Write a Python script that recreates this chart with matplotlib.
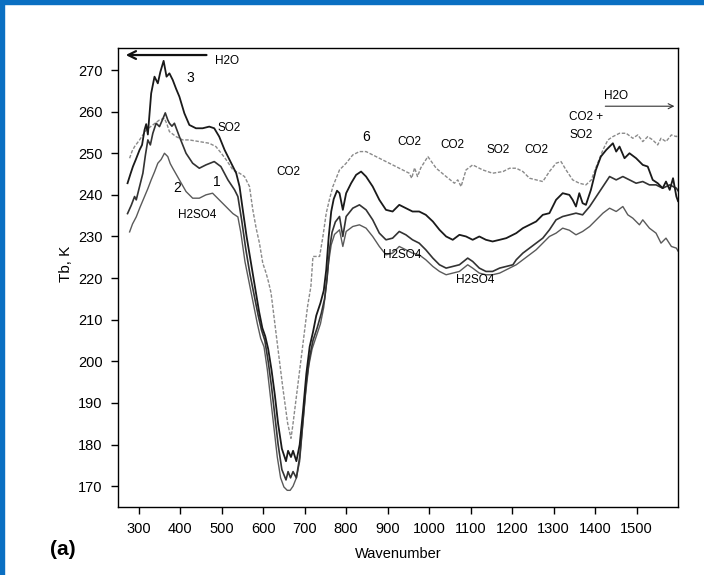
import matplotlib.pyplot as plt
from matplotlib.patches import Rectangle

plt.rcParams['font.family'] = ['Liberation Sans', 'DejaVu Sans']

# curve 3 (warmest at the left)
w3 = [273, 280, 286, 293, 302, 308, 314, 318, 322, 330, 338, 346, 352, 360, 367, 374, 382, 390, 398,
      410, 422, 438, 454, 470, 482, 494, 507, 523, 535, 543,
      550, 560, 570, 580, 590, 598, 605, 612, 620, 628, 636, 645, 655, 660, 667, 672, 680, 688, 696,
      704, 712, 720, 728, 738, 746, 752, 758, 764, 770, 778,
      784, 792, 800, 812, 824, 836, 848, 864, 880, 896, 912, 928, 944, 960, 976, 992, 1009, 1025,
      1041, 1057, 1073, 1089, 1105, 1121, 1137, 1153, 1170, 1186,
      1194, 1210, 1226, 1242, 1258, 1274, 1290, 1306, 1322, 1338, 1346, 1354, 1362, 1370, 1378,
      1390, 1402, 1414, 1427, 1435, 1443, 1451, 1459, 1471, 1483, 1499, 1515, 1527, 1539, 1551,
      1563, 1571, 1580, 1588, 1596, 1600]
tb3 = [242.8, 245.0, 246.8, 248.5, 250.8, 252.0, 255.6, 257.0, 254.5, 264.4, 268.4, 266.8, 269.5, 272.2,
       268.4, 269.2, 267.6, 265.5, 263.6,
       259.6, 256.8, 256.0, 256.0, 256.4, 256.0, 254.0, 250.8, 247.6, 245.2, 242.0,
       237.0, 230.0, 224.0, 218.0, 212.0, 208.0, 206.0, 203.0, 198.0, 192.0, 185.0, 179.0, 176.0, 178.5,
       177.0, 178.5, 176.0, 180.0, 188.0,
       197.0, 203.5, 207.0, 211.0, 214.0, 217.0, 222.0, 230.0, 236.0, 239.0, 241.0,
       240.4, 236.4, 240.4, 242.8, 244.8, 245.6, 244.4, 242.0, 238.8, 236.4, 236.0, 237.6, 236.8, 236.0,
       236.0, 235.2, 233.6, 231.6,
       230.0, 229.2, 230.4, 230.0, 229.2, 230.0, 229.2, 228.8, 229.2, 229.6,
       230.0, 230.8, 232.0, 232.8, 233.6, 235.2, 235.6, 238.8, 240.4, 240.0, 238.8, 237.2, 240.4, 238.0,
       237.6,
       241.2, 246.0, 249.2, 250.8, 251.6, 252.4, 250.4, 251.6, 248.8, 250.0, 248.8, 247.2, 246.8, 243.6,
       242.8, 241.6, 243.2, 241.2, 244.0, 239.6, 238.5]

# curve 1
w1 = [273, 282, 290, 294, 302, 310, 316, 322, 328, 334, 342, 350, 357, 364, 370, 374, 380, 386, 398,
      406, 414, 430, 446, 462, 482, 498, 515, 531, 539,
      548, 558, 568, 578, 588, 596, 604, 612, 620, 628, 636, 645, 655, 660, 666, 672, 680, 688, 696,
      704, 712, 720, 730, 740, 748, 754, 760, 766, 774,
      784, 792, 800, 816, 832, 848, 864, 880, 896, 912, 928, 944, 960, 976, 992, 1009, 1025, 1041,
      1057, 1073, 1093, 1105, 1121, 1137, 1153, 1170, 1186, 1202,
      1210, 1226, 1242, 1258, 1274, 1290, 1306, 1322, 1338, 1354, 1370, 1387, 1403, 1419, 1435,
      1451, 1467, 1483, 1499, 1515, 1531, 1547, 1563, 1580, 1596, 1600]
tb1 = [235.5, 237.5, 239.6, 238.8, 242.0, 245.2, 249.5, 253.2, 252.0, 254.8, 257.2, 256.4, 258.0, 259.7,
       258.0, 257.2, 256.5, 257.2, 254.0,
       252.0, 250.0, 247.6, 246.4, 247.2, 248.0, 246.8, 243.6, 241.2, 239.6,
       234.0, 227.0, 221.0, 216.0, 211.0, 207.5, 205.0, 200.0, 194.0, 187.0, 180.0, 174.0, 171.5, 173.5,
       172.0, 173.5, 172.0, 177.0, 186.0,
       195.0, 201.0, 205.0, 208.0, 211.5, 215.0, 220.0, 227.0, 231.0, 233.5,
       234.8, 230.0, 234.8, 236.8, 237.6, 236.4, 234.0, 230.8, 229.2, 229.6, 231.2, 230.4, 229.2, 228.4,
       226.8, 224.8, 223.2, 222.4,
       222.8, 223.2, 224.8, 224.0, 222.4, 221.6, 221.6, 222.4, 222.8, 223.2,
       224.4, 226.0, 227.2, 228.4, 229.6, 231.6, 234.0, 234.8, 235.2, 235.6, 235.2, 237.2, 239.6, 242.0,
       244.4,
       243.6, 244.4, 243.6, 242.8, 243.2, 242.4, 242.4, 241.6, 242.4, 241.6, 241.0]

# curve 2 (coolest)
w2 = [278, 285, 294, 303, 314, 322, 330, 338, 346, 354, 362, 370, 376, 382, 390, 398, 414, 430, 446,
      462, 478, 494, 510, 527, 539,
      546, 556, 566, 576, 586, 594, 602, 610, 618, 626, 634, 642, 650, 658, 665, 672, 680, 688, 694,
      702, 710, 718, 728, 738, 746, 752, 758, 764, 772,
      784, 792, 800, 816, 832, 848, 864, 880, 896, 912, 928, 944, 960, 976, 992, 1009, 1025, 1041,
      1057, 1073, 1093, 1105, 1121, 1137, 1153, 1170, 1186, 1202,
      1210, 1226, 1242, 1258, 1274, 1290, 1306, 1322, 1338, 1354, 1370, 1387, 1403, 1419, 1435,
      1451, 1467, 1479, 1491, 1507, 1515, 1531, 1547, 1559, 1571, 1584, 1596, 1600]
tb2 = [231.1, 233.0, 234.7, 237.0, 239.6, 241.5, 243.6, 245.5, 247.6, 248.5, 250.0, 249.2, 247.5, 246.4,
       245.0, 243.6, 240.8, 239.2, 239.2,
       240.0, 240.4, 238.8, 237.2, 235.5, 234.7,
       231.0, 224.0, 219.0, 214.0, 209.0, 205.5, 203.5, 198.0, 191.0, 184.0, 177.0, 172.0, 169.8, 169.0,
       169.0, 170.0, 172.0, 176.0, 183.0,
       192.0, 199.0, 203.0, 206.0, 209.0, 213.0, 218.0, 224.0, 228.0, 230.5,
       231.6, 227.6, 231.2, 232.4, 232.8, 232.0, 230.0, 227.6, 225.6, 226.0, 227.6, 226.8, 226.0, 225.6,
       224.4, 222.8, 221.6, 220.8,
       221.2, 221.6, 223.2, 222.4, 221.2, 220.8, 220.8, 221.2, 222.0, 222.8,
       223.2, 224.4, 225.6, 226.8, 228.4, 230.0, 230.8, 232.0, 231.5, 230.4, 231.2, 232.4, 234.0, 235.6,
       236.8,
       236.0, 237.2, 235.2, 234.4, 232.8, 234.0, 232.0, 230.8, 228.4, 229.6, 227.6, 227.2, 226.5]

# curve 6 (dashed)
w6 = [278, 284, 290, 302, 318, 334, 350, 362, 368, 374, 390, 406, 422, 446, 470, 486, 499, 511, 527,
      543, 555, 567,
      575, 583, 591, 599, 607, 613, 619, 623, 635, 647, 659, 667, 671, 683, 695, 707, 715, 720, 736,
      744, 752, 760, 768,
      784, 800, 816, 832, 848, 864, 888, 912, 936, 952, 958, 965, 972, 980, 997, 1017, 1041, 1061,
      1069, 1077, 1089, 1105, 1129, 1153, 1178,
      1194, 1210, 1226, 1242, 1258, 1274, 1290, 1306, 1318, 1330, 1346, 1362, 1378, 1391, 1403, 1419,
      1431, 1443, 1459, 1475, 1491, 1503, 1515, 1527, 1539, 1551, 1559, 1571, 1584, 1596, 1600]
tb6 = [248.8, 250.5, 251.6, 253.2, 255.6, 256.8, 258.0, 258.4, 257.0, 255.2, 254.0, 253.2, 253.2, 252.8,
       252.4, 251.6, 250.0, 248.4, 246.0,
       245.2, 244.4, 242.0,
       236.4, 232.0, 228.4, 223.6, 221.2, 219.0, 216.4, 213.2, 203.5, 193.9, 185.1, 181.5, 184.3, 193.9,
       203.5, 213.2, 218.0, 225.2, 225.2,
       230.0, 235.6, 239.0, 242.0,
       246.0, 247.6, 249.6, 250.4, 250.4, 249.6, 248.4, 247.2, 246.0, 245.2, 244.0, 246.5, 244.4, 246.5,
       249.2, 246.4, 244.4, 242.8,
       243.6, 242.0, 246.0, 247.2, 246.0, 245.2, 245.6,
       246.4, 246.4, 245.6, 244.0, 243.6, 243.2, 245.6, 247.6, 248.0, 246.0, 243.6, 242.8, 242.4, 243.6,
       246.8, 250.8,
       253.2, 254.0, 254.8, 254.8, 253.6, 254.4, 252.8, 254.0, 253.2, 252.0, 253.6, 252.8, 254.4, 254.0,
       254.5]

xticks = list(range(300, 1501, 100))
yticks = list(range(170, 271, 10))

fig = plt.figure(figsize=(7.04, 5.75), dpi=100)
ax = fig.add_axes([0.1676, 0.1183, 0.7955, 0.7983])

ax.plot(w6, tb6, color='#8a8a8a', lw=1.0, linestyle=(0, (2.5, 1.2)))
ax.plot(w2, tb2, color='#5a5a5a', lw=1.0)
ax.plot(w1, tb1, color='#333333', lw=1.2)
ax.plot(w3, tb3, color='#1a1a1a', lw=1.3)

ax.set_xlim(250, 1600)
ax.set_ylim(165, 275.3)
ax.set_xticks(xticks)
ax.set_yticks(yticks)
ax.tick_params(direction='out', length=5, width=1, labelsize=10.5, pad=6)
for s in ax.spines.values():
    s.set_linewidth(1.0)

ax.set_xlabel('Wavenumber', fontsize=10.5, labelpad=8)
ax.set_ylabel('Tb, K', fontsize=11)
ax.yaxis.set_label_coords(-0.08, 0.53)

fs = 8.5
ax.annotate('', xy=(262, 273.6), xytext=(470, 273.6),
            arrowprops=dict(arrowstyle='->', color='#111', lw=1.6, mutation_scale=14))
ax.text(484, 272.2, 'H2O', fontsize=fs, va='center')
ax.text(414, 268, '3', fontsize=10, va='center')
ax.text(490, 256, 'SO2', fontsize=fs, va='center')
ax.text(480, 243, '1', fontsize=10, va='center')
ax.text(384, 241.6, '2', fontsize=10, va='center')
ax.text(442, 235.1, 'H2SO4', fontsize=fs, va='center', ha='center')
ax.text(661, 245.5, 'CO2', fontsize=fs, va='center', ha='center')
ax.text(848, 254, '6', fontsize=10, va='center', ha='center')
ax.text(953, 252.8, 'CO2', fontsize=fs, va='center', ha='center')
ax.text(1057, 252, 'CO2', fontsize=fs, va='center', ha='center')
ax.text(1166, 250.8, 'SO2', fontsize=fs, va='center', ha='center')
ax.text(1258, 250.8, 'CO2', fontsize=fs, va='center', ha='center')
ax.text(1338, 258.8, 'CO2 +', fontsize=fs, va='center')
ax.text(1338, 254.4, 'SO2', fontsize=fs, va='center')
ax.text(935, 225.6, 'H2SO4', fontsize=fs, va='center', ha='center')
ax.text(1110, 219.5, 'H2SO4', fontsize=fs, va='center', ha='center')
ax.text(1422, 263.8, 'H2O', fontsize=fs, va='center')
ax.annotate('', xy=(1598, 261.3), xytext=(1418, 261.3),
            arrowprops=dict(arrowstyle='->', color='#333', lw=0.8, mutation_scale=9))

fig.text(0.071, 0.045, '(a)', fontsize=15, fontweight='bold', va='center')

# blue frame on the left and top edges
fig.patches.append(Rectangle((0, 0), 4 / 704, 1, transform=fig.transFigure,
                             color='#0a6fc2', zorder=10))
fig.patches.append(Rectangle((0, 1 - 4 / 575), 1, 4 / 575, transform=fig.transFigure,
                             color='#0a6fc2', zorder=10))

fig.savefig('out.png', dpi=100)
